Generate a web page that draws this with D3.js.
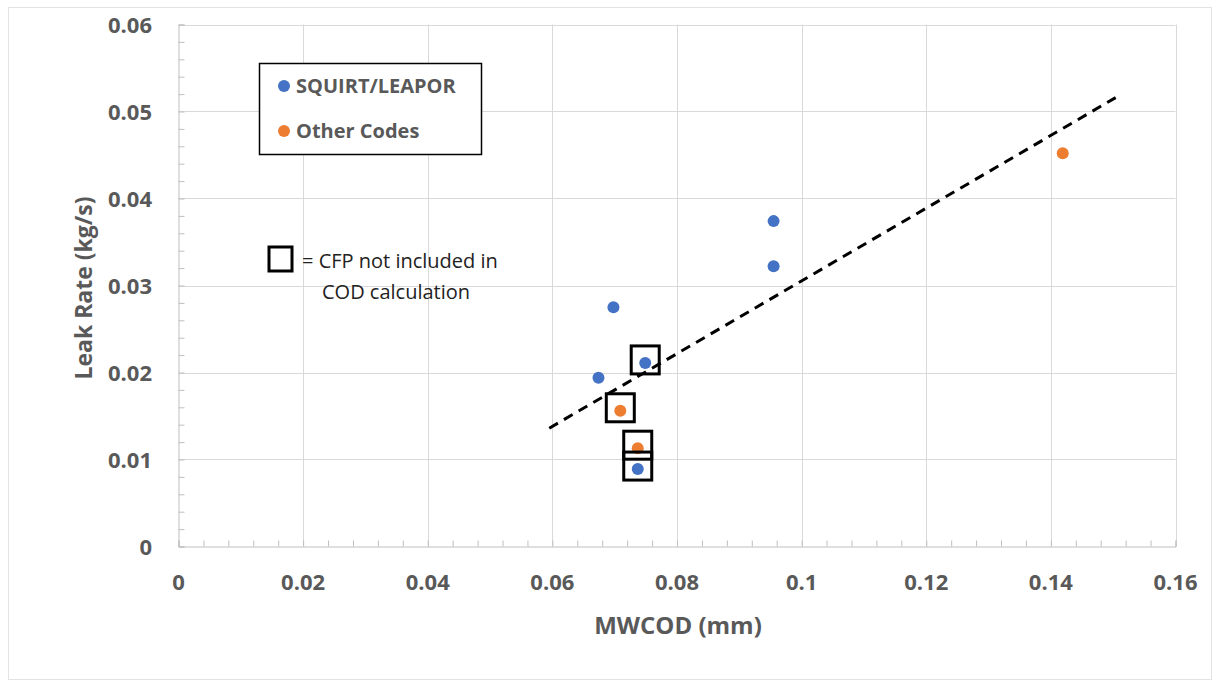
<!DOCTYPE html>
<html>
<head>
<meta charset="utf-8">
<script src="https://cdn.jsdelivr.net/npm/d3@7"></script>
<style>
  body { margin: 0; background: #fff; }
  svg { font-family: "Open Sans", Lato, sans-serif; }
</style>
</head>
<body>
<svg id="chart" width="1214" height="682"></svg>
<script>
// datos
var squirtX = [0.0698, 0.0674, 0.0749, 0.0737, 0.0955, 0.0955];
var squirtY = [0.0275, 0.0194, 0.0211, 0.0089, 0.0374, 0.0322];
var squirtBox = [false, false, true, true, false, false];

var otherX = [0.0709, 0.0737, 0.1419];
var otherY = [0.0156, 0.0113, 0.0452];
var otherBox = [true, true, false];

// linea de tendencia (extremos)
var trendX = [0.0595, 0.1504];
var trendY = [0.0136, 0.0516];

var xTicks = [0, 0.02, 0.04, 0.06, 0.08, 0.1, 0.12, 0.14, 0.16];
var yTicks = [0, 0.01, 0.02, 0.03, 0.04, 0.05, 0.06];

var azul = "#4472c4", naranja = "#ed7d31", gris = "#595959";

var svg = d3.select("#chart");

// marco exterior
svg.append("rect")
  .attr("x", 8.5).attr("y", 7.5)
  .attr("width", 1203).attr("height", 672)
  .attr("fill", "none").attr("stroke", "#e3e3e3");

var x = d3.scaleLinear().domain([0, 0.16]).range([178.5, 1175.5]);
var y = d3.scaleLinear().domain([0, 0.06]).range([546.5, 24.5]);

// rejilla
svg.append("g").selectAll("line")
  .data(xTicks.slice(1))
  .join("line")
  .attr("x1", d => Math.round(x(d)) + 0.5).attr("x2", d => Math.round(x(d)) + 0.5)
  .attr("y1", y(0)).attr("y2", y(0.06))
  .attr("stroke", "#d9d9d9");

svg.append("g").selectAll("line")
  .data(yTicks.slice(1))
  .join("line")
  .attr("x1", x(0)).attr("x2", x(0.16))
  .attr("y1", d => Math.round(y(d)) + 0.5).attr("y2", d => Math.round(y(d)) + 0.5)
  .attr("stroke", "#d9d9d9");

// ejes con ticks menores hacia dentro
var xAxis = d3.axisBottom(x).tickValues(d3.range(0, 0.1601, 0.004)).tickSize(-6).tickFormat("");
svg.append("g").attr("transform", "translate(0," + y(0) + ")").call(xAxis)
  .call(g => g.select(".domain").attr("stroke", "#bfbfbf"))
  .call(g => g.selectAll(".tick line").attr("stroke", "#bfbfbf"));

var yAxis = d3.axisLeft(y).tickValues(d3.range(0, 0.0601, 0.002)).tickSize(-6).tickFormat("");
svg.append("g").attr("transform", "translate(" + x(0) + ",0)").call(yAxis)
  .call(g => g.select(".domain").attr("stroke", "#bfbfbf"))
  .call(g => g.selectAll(".tick line").attr("stroke", "#bfbfbf"));

// etiquetas de ticks
svg.append("g").selectAll("text")
  .data(xTicks)
  .join("text")
  .attr("x", d => x(d)).attr("y", 590)
  .attr("text-anchor", "middle")
  .attr("font-size", 22).attr("font-weight", 700).attr("fill", gris)
  .text(d => +d.toFixed(2));

svg.append("g").selectAll("text")
  .data(yTicks)
  .join("text")
  .attr("x", 152).attr("y", d => y(d) + 8)
  .attr("text-anchor", "end")
  .attr("font-size", 22).attr("font-weight", 700).attr("fill", gris)
  .text(d => +d.toFixed(2));

// titulos de ejes
svg.append("text")
  .attr("x", 678).attr("y", 634)
  .attr("text-anchor", "middle")
  .attr("font-size", 24).attr("font-weight", 700).attr("fill", gris)
  .text("MWCOD (mm)");

svg.append("text")
  .attr("transform", "translate(92,288) rotate(-90)")
  .attr("text-anchor", "middle")
  .attr("font-size", 23).attr("font-weight", 700).attr("fill", gris)
  .text("Leak Rate (kg/s)");

// linea de tendencia
svg.append("line")
  .attr("x1", x(trendX[0])).attr("y1", y(trendY[0]))
  .attr("x2", x(trendX[1])).attr("y2", y(trendY[1]))
  .attr("stroke", "#000").attr("stroke-width", 3)
  .attr("stroke-dasharray", "10,7");

var squirt = squirtX.map((d, i) => ({ x: d, y: squirtY[i], box: squirtBox[i] }));
var other = otherX.map((d, i) => ({ x: d, y: otherY[i], box: otherBox[i] }));

// puntos
svg.append("g").selectAll("circle")
  .data(squirt)
  .join("circle")
  .attr("cx", d => x(d.x)).attr("cy", d => y(d.y)).attr("r", 6)
  .attr("fill", azul);

svg.append("g").selectAll("circle")
  .data(other)
  .join("circle")
  .attr("cx", d => x(d.x)).attr("cy", d => y(d.y)).attr("r", 6)
  .attr("fill", naranja);

// cuadros: CFP no incluido
var cajas = squirt.concat(other).filter(d => d.box);
svg.append("g").selectAll("rect")
  .data(cajas)
  .join("rect")
  .attr("x", d => x(d.x) - 14).attr("y", d => y(d.y) - 17)
  .attr("width", 28).attr("height", 28)
  .attr("fill", "none").attr("stroke", "#000").attr("stroke-width", 3);

// leyenda
var leg = svg.append("g");
leg.append("rect")
  .attr("x", 259.5).attr("y", 63.5).attr("width", 222).attr("height", 91)
  .attr("fill", "#fff").attr("stroke", "#000").attr("stroke-width", 1.5);
var items = [["SQUIRT/LEAPOR", azul], ["Other Codes", naranja]];
leg.selectAll("g")
  .data(items)
  .join("g")
  .attr("transform", (d, i) => "translate(284," + (86 + i * 45) + ")")
  .call(g => g.append("circle").attr("r", 6).attr("fill", d => d[1]))
  .call(g => g.append("text").attr("x", 12).attr("y", 7)
    .attr("font-size", 20).attr("font-weight", 700).attr("fill", gris)
    .text(d => d[0]));

// nota
svg.append("rect")
  .attr("x", 269).attr("y", 247).attr("width", 23).attr("height", 24)
  .attr("fill", "none").attr("stroke", "#000").attr("stroke-width", 3);
svg.append("text")
  .attr("x", 302).attr("y", 268)
  .attr("font-size", 20).attr("fill", "#222")
  .text("= CFP not included in");
svg.append("text")
  .attr("x", 322).attr("y", 299)
  .attr("font-size", 20).attr("fill", "#222")
  .text("COD calculation");
</script>
</body>
</html>
